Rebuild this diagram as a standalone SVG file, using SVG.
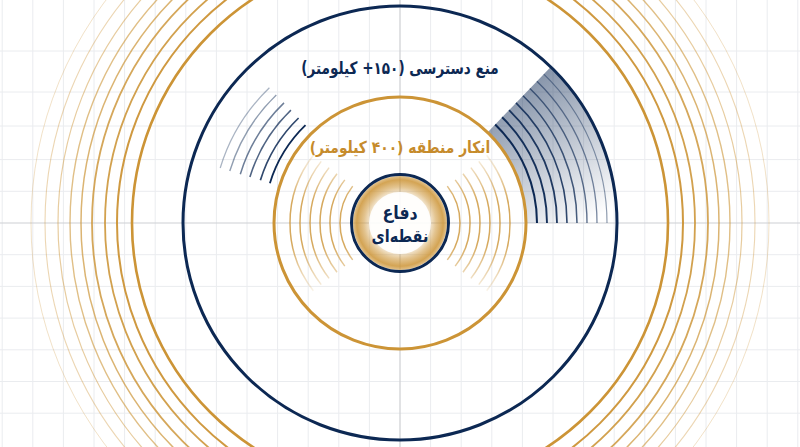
<svg xmlns="http://www.w3.org/2000/svg" width="800" height="447" viewBox="0 0 800 447">
<defs>
<style>
.grid{stroke:#eaecef;stroke-width:1;fill:none}
.axis{stroke:#cdcfd3;stroke-width:1.2;fill:none}
.gold{stroke:#cc9436;fill:none}
.navy{stroke:#0c2853;fill:none}
.ripple{stroke:#cc9436;stroke-width:1.5;fill:none;stroke-opacity:0.8}
.lbl{font-family:"DejaVu Sans","Noto Sans",sans-serif;font-weight:bold;text-anchor:middle}
</style>
<radialGradient id="halo" cx="400" cy="223" r="48" gradientUnits="userSpaceOnUse">
<stop offset="0.6" stop-color="#cc9436" stop-opacity="0.15"/>
<stop offset="0.75" stop-color="#cc9436" stop-opacity="0.55"/>
<stop offset="0.9" stop-color="#cc9436" stop-opacity="0.85"/>
<stop offset="1" stop-color="#cc9436" stop-opacity="0.5"/>
</radialGradient>
<linearGradient id="wedgeFill" x1="495" y1="85" x2="590" y2="223" gradientUnits="userSpaceOnUse">
<stop offset="0" stop-color="#0c2853" stop-opacity="0.55"/>
<stop offset="1" stop-color="#0c2853" stop-opacity="0"/>
</linearGradient>
<linearGradient id="fadeV" x1="0" y1="150" x2="0" y2="296" gradientUnits="userSpaceOnUse">
<stop offset="0" stop-color="#fff" stop-opacity="0.05"/>
<stop offset="0.35" stop-color="#fff" stop-opacity="1"/>
<stop offset="0.65" stop-color="#fff" stop-opacity="1"/>
<stop offset="1" stop-color="#fff" stop-opacity="0.05"/>
</linearGradient>
<mask id="rippleMask" maskUnits="userSpaceOnUse" x="0" y="0" width="800" height="447">
<rect x="0" y="140" width="800" height="166" fill="url(#fadeV)"/>
</mask>
</defs>
<rect width="800" height="447" fill="#ffffff"/>
<g id="grid">
<path class="grid" d="M2.2 0V447M32.8 0V447M63.4 0V447M94 0V447M124.6 0V447M155.2 0V447M185.8 0V447M216.4 0V447M247 0V447M277.6 0V447M308.2 0V447M338.8 0V447M369.4 0V447M430.6 0V447M461.2 0V447M491.8 0V447M522.4 0V447M553 0V447M583.6 0V447M614.2 0V447M644.8 0V447M675.4 0V447M706 0V447M736.6 0V447M767.2 0V447M797.8 0V447"/>
<path class="grid" d="M0 51H800M0 92H800M0 126H800M0 159.6H800M0 191.3H800M0 254.7H800M0 286.4H800M0 318.1H800M0 349.8H800M0 381.5H800M0 413.2H800"/>
<path class="axis" d="M400 0V447M0 223H800"/>
</g>
<g id="outer-rings">
<circle class="gold" cx="400" cy="223" r="268" stroke-width="2.6"/>
<circle class="gold" cx="400" cy="223" r="283" stroke-width="2" stroke-opacity="0.95"/>
<circle class="gold" cx="400" cy="223" r="295" stroke-width="1.8" stroke-opacity="0.88"/>
<circle class="gold" cx="400" cy="223" r="308" stroke-width="1.8" stroke-opacity="0.82"/>
<circle class="gold" cx="400" cy="223" r="319" stroke-width="1.5" stroke-opacity="0.7"/>
<circle class="gold" cx="400" cy="223" r="330" stroke-width="1.4" stroke-opacity="0.6"/>
<circle class="gold" cx="400" cy="223" r="342" stroke-width="1.2" stroke-opacity="0.48"/>
<circle class="gold" cx="400" cy="223" r="355" stroke-width="1.1" stroke-opacity="0.38"/>
<circle class="gold" cx="400" cy="223" r="369" stroke-width="1" stroke-opacity="0.28"/>
</g>
<g id="a2ad-zone">
<path d="M526 223L617 223A217 217 0 0 0 550.7 66.9L487.5 132.4A126 126 0 0 1 526 223Z" fill="url(#wedgeFill)"/>
<path class="navy" stroke-width="2" d="M537 223A137 137 0 0 0 495.2 124.5"/>
<path class="navy" stroke-width="1.9" stroke-opacity="0.95" d="M547 223A147 147 0 0 0 502.1 117.3"/>
<path class="navy" stroke-width="1.8" stroke-opacity="0.9" d="M557 223A157 157 0 0 0 509.1 110.1"/>
<path class="navy" stroke-width="1.6" stroke-opacity="0.85" d="M567 223A167 167 0 0 0 516 102.9"/>
<path class="navy" stroke-width="1.5" stroke-opacity="0.75" d="M577 223A177 177 0 0 0 523 95.7"/>
<path class="navy" stroke-width="1.4" stroke-opacity="0.65" d="M587 223A187 187 0 0 0 529.9 88.5"/>
<path class="navy" stroke-width="1.3" stroke-opacity="0.55" d="M597 223A197 197 0 0 0 536.9 81.3"/>
<path class="navy" stroke-width="1.2" stroke-opacity="0.45" d="M607 223A207 207 0 0 0 543.8 74.1"/>
<path class="navy" stroke-width="1.8" d="M269.9 183.2A136 136 0 0 1 305.5 125.2"/>
<path class="navy" stroke-width="1.7" stroke-opacity="0.85" d="M260.4 180.3A146 146 0 0 1 298.6 118"/>
<path class="navy" stroke-width="1.6" stroke-opacity="0.72" d="M249.9 177.1A157 157 0 0 1 290.9 110.1"/>
<path class="navy" stroke-width="1.5" stroke-opacity="0.6" d="M240.3 174.2A167 167 0 0 1 284 102.9"/>
<path class="navy" stroke-width="1.4" stroke-opacity="0.45" d="M229.8 171A178 178 0 0 1 276.3 95"/>
<path class="navy" stroke-width="1.3" stroke-opacity="0.35" d="M220.2 168A188 188 0 0 1 269.4 87.8"/>
<circle class="navy" cx="400" cy="223" r="217" stroke-width="3"/>
<text class="lbl" transform="translate(400,74) scale(0.8,1)" x="0" y="0" font-size="17" fill="#0c2853" direction="rtl">منع دسترسی (۱۵۰+ کیلومتر)</text>
</g>
<g id="ad-zone">
<g mask="url(#rippleMask)">
<path class="ripple" d="M447.3 186.1A60 60 0 0 1 447.3 259.9M455.2 179.9A70 70 0 0 1 455.2 266.1M463 173.7A80 80 0 0 1 463 272.3M470.9 167.6A90 90 0 0 1 470.9 278.4M478.8 161.4A100 100 0 0 1 478.8 284.6M486.7 155.3A110 110 0 0 1 486.7 290.7"/>
<path class="ripple" d="M352.7 186.1A60 60 0 0 0 352.7 259.9M344.8 179.9A70 70 0 0 0 344.8 266.1M337 173.7A80 80 0 0 0 337 272.3M329.1 167.6A90 90 0 0 0 329.1 278.4M321.2 161.4A100 100 0 0 0 321.2 284.6M313.3 155.3A110 110 0 0 0 313.3 290.7"/>
</g>
<circle class="gold" cx="400" cy="223" r="126" stroke-width="3"/>
<text class="lbl" transform="translate(400,153) scale(0.84,1)" x="0" y="0" font-size="16.5" fill="#c68b2c" direction="rtl">انکار منطقه (۴۰۰ کیلومتر)</text>
</g>
<g id="point-defense">
<circle cx="400" cy="223" r="47" fill="url(#halo)"/>
<circle cx="400" cy="223" r="31" fill="#ffffff" fill-opacity="0.9"/>
<circle class="navy" cx="400" cy="223" r="48.5" stroke-width="3"/>
<text class="lbl" transform="translate(400,219) scale(0.88,1)" x="0" y="0" font-size="18" fill="#0c2853" direction="rtl">دفاع</text>
<text class="lbl" transform="translate(400,242) scale(0.85,1)" x="0" y="0" font-size="17" fill="#0c2853" direction="rtl">نقطه‌ای</text>
</g>
</svg>
